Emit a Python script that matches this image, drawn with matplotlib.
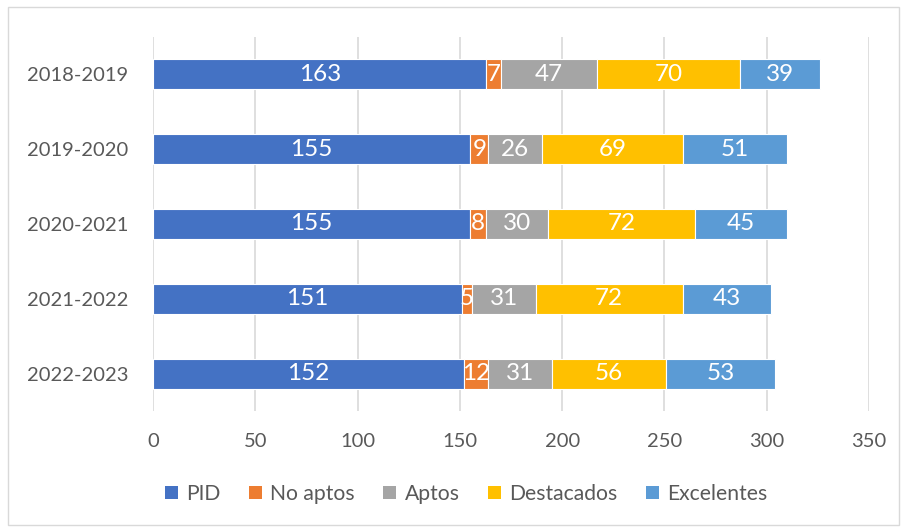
import matplotlib
matplotlib.use("Agg")
import matplotlib.pyplot as plt
from matplotlib.patches import Rectangle, Patch

years = ["2018-2019", "2019-2020", "2020-2021", "2021-2022", "2022-2023"]
series_names = ["PID", "No aptos", "Aptos", "Destacados", "Excelentes"]
pid = [163, 155, 155, 151, 152]
no_aptos = [7, 9, 8, 5, 12]
aptos = [47, 26, 30, 31, 31]
destacados = [70, 69, 72, 72, 56]
excelentes = [39, 51, 45, 43, 53]
colors = ["#4472C4", "#ED7D31", "#A5A5A5", "#FFC000", "#5B9BD5"]
xticks = [0, 50, 100, 150, 200, 250, 300, 350]

plt.rcParams['font.family'] = ['Lato', 'DejaVu Sans']

fig = plt.figure(figsize=(9.07, 5.30), dpi=100)
ax = fig.add_axes([153/907, 1-411/530, (869-153)/907, (411-37)/530])

ypos = list(range(len(years)))[::-1]
left = [0]*len(years)
series = [pid, no_aptos, aptos, destacados, excelentes]
for name, vals, c in zip(series_names, series, colors):
    bars = ax.barh(ypos, vals, left=left, height=0.4, color=c, edgecolor="white",
                   linewidth=0.8, label=name, zorder=3)
    ax.bar_label(bars, labels=[str(v) for v in vals], label_type="center",
                 color="white", fontsize=17.5)
    left = [l + v for l, v in zip(left, vals)]

ax.set_xlim(0, 350)
ax.set_ylim(-0.5, len(years)-0.5)
ax.set_xticks(xticks)
ax.set_yticks(ypos)
ax.set_yticklabels(years)
ax.tick_params(axis="both", length=0, labelsize=14.5, colors="#595959")
ax.tick_params(axis="x", pad=16)
ax.tick_params(axis="y", pad=18)
for s in ax.spines.values():
    s.set_visible(False)
ax.grid(axis="x", color="#D9D9D9", linewidth=1.2, zorder=0)
ax.set_axisbelow(True)

handles = [Patch(facecolor=c, edgecolor="none") for c in colors]
fig.legend(handles, series_names, loc="center", bbox_to_anchor=(0.514, 1-494/530),
           ncol=5, frameon=False, fontsize=15.2, handlelength=0.62, handleheight=0.62,
           handletextpad=0.38, columnspacing=1.35, labelcolor="#595959")

fig.patches.append(Rectangle((8/907, 1-525/530), (899-8)/907, (525-7)/530,
                             transform=fig.transFigure, fill=False,
                             edgecolor="#D9D9D9", linewidth=1.0))

fig.savefig("out.png", dpi=100)
